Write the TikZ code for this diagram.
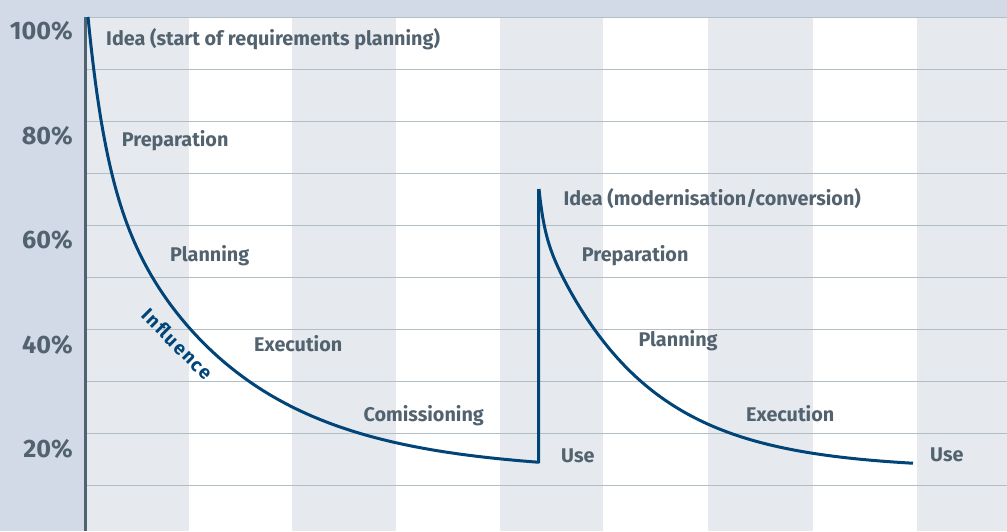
\documentclass[tikz,border=0pt]{standalone}
\usepackage{fontspec}
\setmainfont{Fira Sans}
\definecolor{panel}{RGB}{210,217,231}
\definecolor{stripe}{RGB}{230,234,238}
\definecolor{gridc}{RGB}{178,190,198}
\definecolor{axisc}{RGB}{78,100,112}
\definecolor{curvec}{RGB}{0,68,120}
\definecolor{labelc}{RGB}{82,99,111}
\begin{document}
\begin{tikzpicture}[x=1pt,y=-1pt,
  lbl/.style={font=\fontsize{19.8}{22}\selectfont\bfseries, text=labelc, anchor=base west, inner sep=0pt},
  pct/.style={font=\fontsize{25.2}{28}\selectfont\bfseries, text=labelc, anchor=base east, inner sep=0pt},
  curve/.style={draw=curvec, line width=3pt},
  gridline/.style={draw=gridc, line width=1.5pt}]
\useasboundingbox (0,0) rectangle (1007,531);
% background
\fill[panel] (0,0) rectangle (1007,17);
\fill[panel] (0,0) rectangle (85,531);
\foreach \a/\b in {87/189,292/396,500/603,708/813,917/1007}
  \fill[stripe] (\a,17.5) rectangle (\b,531);
\foreach \k in {0,...,9}
  \draw[gridline] (86,17.5+52*\k) -- (1007,17.5+52*\k);
% axis
\draw[axisc, line width=3pt] (85.5,17) -- (85.5,531);
% percent labels
\node[pct] (p100) at (73,39.3) {100\%};
\node[pct] (p80) at (73,144) {80\%};
\node[pct] (p60) at (73,248.5) {60\%};
\node[pct] (p40) at (73,353) {40\%};
\node[pct] (p20) at (73,457) {20\%};
% curves
\draw[curve, line join=miter]
  plot[domain=0:450, samples=300, variable=\u] ({88+\u},{462-(142*exp(-\u/18)+313*exp(-\u/130)-10)})
  -- (538.5,462) -- (538.5,189);
\draw[curve]
  plot[domain=0:374, samples=300, variable=\u] ({539+\u},{462-(37*exp(-\u/5)+243*exp(-\u/100)-7)});
% phase labels
\node[lbl] (idea1) at (106,45.5) {Idea (start of requirements planning)};
\node[lbl] (prep1) at (121.7,146.5) {Preparation};
\node[lbl] (plan1) at (170,261.5) {Planning};
\node[lbl] (exec1) at (254,351.5) {Execution};
\node[lbl] (comm) at (363.3,421.5) {Comissioning};
\node[lbl] (use1) at (561,462) {Use};
\node[lbl] (idea2) at (563.3,205.5) {Idea (modernisation/conversion)};
\node[lbl] (prep2) at (581.7,261.5) {Preparation};
\node[lbl] (plan2) at (638.3,346.5) {Planning};
\node[lbl] (exec2) at (746,421.5) {Execution};
\node[lbl] (use2) at (930,461.5) {Use};
\node[font=\fontsize{19}{22}\selectfont\bfseries\addfontfeatures{LetterSpace=8}, text=curvec, rotate=-45, inner sep=0pt] (infl) at (177.5,344) {Influence};
\end{tikzpicture}
\end{document}
